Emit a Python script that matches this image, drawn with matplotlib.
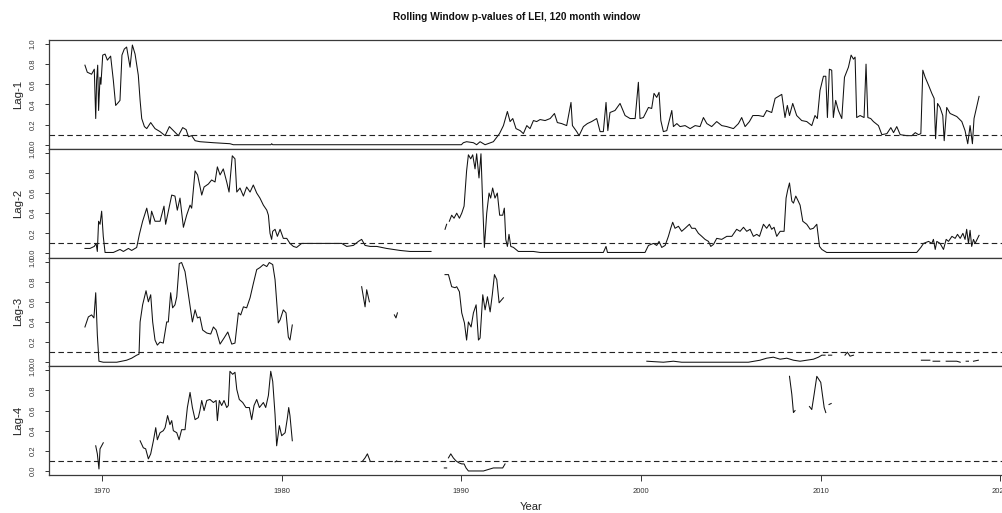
import numpy as np
import matplotlib
matplotlib.use("Agg")
import matplotlib.pyplot as plt

nan = np.nan

# ---------------- data ----------------
lag1_years = [1969.05, 1969.18, 1969.42, 1969.57, 1969.65, 1969.70, 1969.76, 1969.81, 1969.89, 1969.94,
              1970.04, 1970.17, 1970.30, 1970.48, 1970.63, 1970.76, 1970.91, 1971.00, 1971.11, 1971.24,
              1971.37, 1971.56, 1971.69, 1971.84, 1972.02, 1972.12, 1972.21, 1972.36, 1972.49, 1972.71,
              1972.95, 1973.23, 1973.51, 1973.75, 1973.97, 1974.25, 1974.49, 1974.68, 1974.81, 1974.99,
              1975.18, 1975.45, 1976.20, 1977.12, 1977.31, 1979.40, 1979.44, 1979.50, 1990.00, 1990.11,
              1990.29, 1990.67, 1990.85, 1991.04, 1991.32, 1991.78, 1992.12,
              1992.34, 1992.56, 1992.71, 1992.86, 1993.04, 1993.27, 1993.45, 1993.64, 1993.82, 1994.01,
              1994.19, 1994.38, 1994.66, 1994.94, 1995.18, 1995.34, 1995.58, 1995.86, 1996.10, 1996.18,
              1996.42, 1996.55, 1996.79, 1997.01, 1997.25, 1997.53, 1997.72, 1997.90, 1998.05, 1998.15,
              1998.27, 1998.55, 1998.83, 1999.11, 1999.39, 1999.67, 1999.85, 1999.94, 2000.13, 2000.41,
              2000.59, 2000.72, 2000.87, 2001.00, 2001.10, 2001.24, 2001.43, 2001.71, 2001.80, 2001.99,
              2002.17, 2002.45, 2002.73, 2003.01, 2003.28, 2003.47, 2003.66, 2003.93, 2004.21, 2004.49,
              2004.77, 2005.14, 2005.42, 2005.60, 2005.79, 2006.03, 2006.22, 2006.53, 2006.81, 2006.99,
              2007.27, 2007.46, 2007.83, 2008.01, 2008.14, 2008.26, 2008.44, 2008.66, 2008.94, 2009.22,
              2009.50, 2009.68, 2009.81, 2009.96, 2010.15, 2010.28, 2010.37, 2010.48, 2010.61, 2010.70,
              2010.83, 2010.98, 2011.17, 2011.32, 2011.54, 2011.69, 2011.82, 2011.91, 2012.00, 2012.19,
              2012.41, 2012.52, 2012.62, 2012.78, 2012.93, 2013.21, 2013.40, 2013.68, 2013.90, 2014.05,
              2014.23, 2014.42, 2014.79, 2015.07, 2015.26, 2015.44, 2015.57, 2015.68, 2015.81, 2016.00,
              2016.18, 2016.31, 2016.39, 2016.50, 2016.64, 2016.79, 2016.87, 2017.01, 2017.20, 2017.57,
              2017.85, 2018.03, 2018.18, 2018.31, 2018.44, 2018.53, 2018.81]
lag1_pvals = [0.79, 0.72, 0.70, 0.75, 0.26, 0.64, 0.79, 0.34, 0.67, 0.60,
              0.89, 0.90, 0.84, 0.88, 0.64, 0.39, 0.42, 0.44, 0.89, 0.95,
              0.97, 0.77, 0.99, 0.90, 0.69, 0.44, 0.26, 0.18, 0.16, 0.22,
              0.16, 0.13, 0.09, 0.18, 0.14, 0.09, 0.17, 0.15, 0.08, 0.09,
              0.04, 0.03, 0.02, 0.01, 0.00, 0.00, 0.01, 0.00, 0.00, 0.02,
              0.03, 0.02, 0.00, 0.03, 0.00, 0.03, 0.11,
              0.19, 0.33, 0.23, 0.26, 0.16, 0.14, 0.11, 0.19, 0.16, 0.24,
              0.23, 0.25, 0.24, 0.26, 0.31, 0.22, 0.21, 0.19, 0.42, 0.19,
              0.13, 0.09, 0.18, 0.21, 0.23, 0.26, 0.13, 0.13, 0.42, 0.14,
              0.32, 0.34, 0.41, 0.29, 0.26, 0.26, 0.62, 0.26, 0.27, 0.37,
              0.36, 0.51, 0.47, 0.52, 0.24, 0.13, 0.14, 0.34, 0.18, 0.21,
              0.18, 0.19, 0.16, 0.19, 0.18, 0.27, 0.21, 0.18, 0.23, 0.19,
              0.18, 0.16, 0.21, 0.27, 0.18, 0.23, 0.29, 0.29, 0.28, 0.34,
              0.32, 0.46, 0.50, 0.27, 0.39, 0.29, 0.41, 0.29, 0.24, 0.23,
              0.19, 0.29, 0.26, 0.54, 0.68, 0.68, 0.27, 0.75, 0.74, 0.27,
              0.44, 0.34, 0.26, 0.67, 0.77, 0.89, 0.85, 0.87, 0.27, 0.29,
              0.27, 0.80, 0.27, 0.26, 0.23, 0.19, 0.10, 0.11, 0.17, 0.12,
              0.18, 0.10, 0.09, 0.09, 0.12, 0.10, 0.11, 0.74, 0.67, 0.59,
              0.51, 0.46, 0.06, 0.41, 0.37, 0.29, 0.04, 0.37, 0.31, 0.28,
              0.23, 0.14, 0.01, 0.19, 0.01, 0.26, 0.48]

lag2_years = [1969.05, 1969.33, 1969.57, 1969.67, 1969.74, 1969.81, 1969.89, 1969.98, 1970.07, 1970.17,
              1970.63, 1971.00, 1971.19, 1971.47, 1971.65, 1971.93, 1972.08, 1972.26, 1972.49, 1972.67,
              1972.76, 1972.95, 1973.23, 1973.45, 1973.54, 1973.69, 1973.88, 1974.06, 1974.19, 1974.34,
              1974.53, 1974.71, 1974.90, 1974.99, 1975.18, 1975.32, 1975.55, 1975.68, 1975.92, 1976.10,
              1976.29, 1976.42, 1976.57, 1976.75, 1976.94, 1977.07, 1977.25, 1977.40, 1977.50, 1977.68,
              1977.87, 1978.05, 1978.24, 1978.42, 1978.61, 1978.79, 1978.98, 1979.17, 1979.26, 1979.35,
              1979.44, 1979.50, 1979.63, 1979.76, 1979.91, 1980.09, 1980.28, 1980.46, 1980.65, 1980.83,
              1981.11, 1981.48, 1981.95, 1982.41, 1982.88, 1983.34, 1983.62, 1983.99, 1984.27, 1984.45,
              1984.64, 1984.92, 1985.29, 1985.84, 1986.59, 1987.14, 1987.70, 1988.31, nan,
              1989.09, 1989.18, nan,
              1989.33, 1989.46, 1989.59, 1989.74, 1989.89, 1990.02, 1990.15, 1990.29, 1990.39, 1990.52,
              1990.63, 1990.76, 1990.85, 1990.98, 1991.09, 1991.19, 1991.28, 1991.41, 1991.54, 1991.63,
              1991.74, 1991.87, 1992.00, 1992.13, 1992.30, 1992.39, 1992.47, 1992.56, 1992.65, 1992.75,
              1992.90, 1993.17, 1993.64, 1994.01, 1994.38, 1997.90, 1998.05, 1998.13, 2000.22, 2000.41,
              2000.69, 2000.87, 2001.00, 2001.15, 2001.34, 2001.52, 2001.65, 2001.76, 2001.89, 2002.08,
              2002.26, 2002.45, 2002.69, 2002.82, 2003.01, 2003.19, 2003.38, 2003.56, 2003.75, 2003.88,
              2004.03, 2004.21, 2004.49, 2004.77, 2005.05, 2005.32, 2005.51, 2005.70, 2005.88, 2006.07,
              2006.25, 2006.44, 2006.59, 2006.81, 2006.99, 2007.14, 2007.27, 2007.40, 2007.55, 2007.74,
              2007.96, 2008.07, 2008.16, 2008.26, 2008.39, 2008.48, 2008.61, 2008.72, 2008.85, 2009.00,
              2009.22, 2009.41, 2009.59, 2009.78, 2009.93, 2010.06, 2010.33, 2010.70, 2015.34, 2015.57,
              2015.72, 2016.00, 2016.18, 2016.27, 2016.37, 2016.46, 2016.64, 2016.83, 2016.98, 2017.11,
              2017.30, 2017.48, 2017.61, 2017.76, 2017.91, 2018.03, 2018.12, 2018.22, 2018.31, 2018.40,
              2018.50, 2018.59, 2018.81]
lag2_pvals = [0.05, 0.05, 0.07, 0.10, 0.02, 0.32, 0.29, 0.42, 0.17, 0.01,
              0.01, 0.04, 0.02, 0.05, 0.03, 0.06, 0.19, 0.32, 0.45, 0.29,
              0.42, 0.32, 0.32, 0.47, 0.29, 0.42, 0.58, 0.57, 0.43, 0.55,
              0.26, 0.38, 0.48, 0.45, 0.82, 0.78, 0.58, 0.66, 0.69, 0.73,
              0.71, 0.86, 0.78, 0.84, 0.71, 0.61, 0.97, 0.94, 0.61, 0.65,
              0.57, 0.66, 0.61, 0.68, 0.60, 0.55, 0.48, 0.43, 0.38, 0.20,
              0.14, 0.22, 0.24, 0.17, 0.24, 0.15, 0.15, 0.10, 0.07, 0.06,
              0.10, 0.10, 0.10, 0.10, 0.10, 0.10, 0.07, 0.08, 0.12, 0.14,
              0.08, 0.07, 0.07, 0.05, 0.03, 0.02, 0.02, 0.02, nan,
              0.24, 0.29, nan,
              0.32, 0.38, 0.35, 0.40, 0.35, 0.40, 0.47, 0.82, 0.98, 0.94,
              0.98, 0.84, 0.99, 0.75, 0.99, 0.47, 0.06, 0.40, 0.60, 0.55,
              0.65, 0.55, 0.60, 0.38, 0.38, 0.45, 0.14, 0.07, 0.19, 0.07,
              0.06, 0.02, 0.02, 0.02, 0.01, 0.01, 0.07, 0.01, 0.01, 0.08,
              0.10, 0.08, 0.12, 0.06, 0.08, 0.17, 0.25, 0.31, 0.25, 0.27,
              0.22, 0.25, 0.29, 0.25, 0.25, 0.20, 0.17, 0.14, 0.12, 0.07,
              0.09, 0.15, 0.14, 0.17, 0.17, 0.24, 0.22, 0.26, 0.22, 0.24,
              0.17, 0.19, 0.17, 0.29, 0.25, 0.29, 0.24, 0.26, 0.17, 0.22,
              0.22, 0.55, 0.63, 0.70, 0.52, 0.50, 0.57, 0.53, 0.48, 0.32,
              0.29, 0.24, 0.25, 0.29, 0.07, 0.04, 0.01, 0.01, 0.01, 0.06,
              0.10, 0.12, 0.10, 0.14, 0.04, 0.12, 0.10, 0.04, 0.14, 0.12,
              0.17, 0.15, 0.19, 0.15, 0.20, 0.14, 0.24, 0.10, 0.23, 0.07,
              0.14, 0.10, 0.18]

lag3_years = [1969.05, 1969.24, 1969.42, 1969.55, 1969.65, 1969.74, 1969.83, 1970.07, 1970.82, 1971.09,
              1971.37, 1971.65, 1971.93, 1972.06, 1972.12, 1972.26, 1972.45, 1972.58, 1972.71, 1972.82,
              1972.95, 1973.08, 1973.23, 1973.41, 1973.60, 1973.69, 1973.82, 1973.93, 1974.06, 1974.16,
              1974.30, 1974.43, 1974.62, 1974.81, 1975.03, 1975.18, 1975.31, 1975.45, 1975.60, 1975.83,
              1976.05, 1976.20, 1976.35, 1976.57, 1976.79, 1977.00, 1977.22, 1977.40, 1977.59, 1977.72,
              1977.87, 1978.05, 1978.24, 1978.42, 1978.61, 1978.79, 1978.98, 1979.17, 1979.31, 1979.50,
              1979.63, 1979.81, 1979.91, 1980.09, 1980.24, 1980.37, 1980.46, 1980.59, nan,
              1984.45, 1984.64, 1984.73, 1984.88, nan,
              1986.27, 1986.36, 1986.44, nan,
              1989.09, 1989.28, 1989.46, 1989.65, 1989.74, 1989.89, 1990.02, 1990.17, 1990.29, 1990.39,
              1990.54, 1990.67, 1990.82, 1990.95, 1991.04, 1991.19, 1991.32, 1991.45, 1991.60, 1991.72,
              1991.84, 1991.97, 1992.10, 1992.34, nan,
              2000.32, 2001.24, 2001.80, 2002.26, 2005.97, 2006.62, 2006.99, 2007.36, 2007.74, 2008.11,
              2008.48, 2008.85, 2009.22, 2009.59, 2009.87, 2010.06, 2010.24, nan,
              2010.43, 2010.61, nan,
              2011.35, 2011.48, 2011.63, 2011.82, nan,
              2015.60, 2016.07, nan,
              2016.25, 2016.62, nan,
              2016.98, 2017.57, 2017.76, nan,
              2018.09, 2018.22, nan,
              2018.50, 2018.77]
lag3_pvals = [0.35, 0.45, 0.47, 0.44, 0.69, 0.27, 0.01, 0.00, 0.00, 0.01,
              0.02, 0.04, 0.07, 0.08, 0.40, 0.57, 0.71, 0.60, 0.67, 0.40,
              0.22, 0.17, 0.20, 0.19, 0.40, 0.40, 0.69, 0.54, 0.57, 0.65,
              0.98, 0.99, 0.90, 0.67, 0.40, 0.52, 0.44, 0.45, 0.32, 0.29,
              0.28, 0.35, 0.32, 0.18, 0.24, 0.30, 0.18, 0.19, 0.49, 0.47,
              0.55, 0.54, 0.64, 0.78, 0.92, 0.94, 0.97, 0.95, 0.99, 0.97,
              0.82, 0.39, 0.42, 0.52, 0.49, 0.25, 0.22, 0.37, nan,
              0.75, 0.55, 0.72, 0.60, nan,
              0.47, 0.44, 0.49, nan,
              0.87, 0.87, 0.75, 0.74, 0.75, 0.70, 0.49, 0.39, 0.22, 0.40,
              0.35, 0.49, 0.57, 0.22, 0.24, 0.67, 0.52, 0.65, 0.50, 0.67,
              0.87, 0.82, 0.59, 0.64, nan,
              0.01, 0.00, 0.01, 0.00, 0.00, 0.02, 0.04, 0.05, 0.03, 0.04,
              0.02, 0.01, 0.02, 0.03, 0.05, 0.07, 0.07, nan,
              0.07, 0.07, nan,
              0.07, 0.10, 0.06, 0.07, nan,
              0.02, 0.02, nan,
              0.01, 0.01, nan,
              0.01, 0.01, 0.00, nan,
              0.01, 0.01, nan,
              0.01, 0.02]

lag4_years = [1969.65, 1969.74, 1969.83, 1969.89, 1969.98, 1970.07, nan,
              1972.12, 1972.30, 1972.43, 1972.58, 1972.71, 1972.86, 1972.99, 1973.08, 1973.23, 1973.41,
              1973.51, 1973.65, 1973.78, 1973.88, 1973.97, 1974.16, 1974.29, 1974.43, 1974.62, 1974.75,
              1974.90, 1975.03, 1975.18, 1975.36, 1975.45, 1975.55, 1975.68, 1975.83, 1976.01, 1976.20,
              1976.35, 1976.42, 1976.53, 1976.66, 1976.79, 1976.94, 1977.03, 1977.12, 1977.27, 1977.40,
              1977.50, 1977.64, 1977.83, 1978.01, 1978.20, 1978.33, 1978.46, 1978.61, 1978.76, 1978.98,
              1979.11, 1979.26, 1979.39, 1979.50, 1979.63, 1979.72, 1979.87, 1980.00, 1980.19, 1980.32,
              1980.39, 1980.46, 1980.59, nan,
              1984.51, 1984.64, 1984.77, 1984.92, nan,
              1986.31, 1986.40, nan,
              1989.05, 1989.18, nan,
              1989.28, 1989.41, 1989.55, 1989.70, 1989.87, 1990.02, 1990.15, 1990.26, 1990.39, 1991.23,
              1991.41, 1991.78, 1992.10, 1992.30, 1992.43, nan,
              2008.26, 2008.39, 2008.48, 2008.57, nan,
              2009.37, 2009.50, 2009.63, 2009.78, 2009.89, 2010.00, 2010.09, 2010.19, 2010.28, nan,
              2010.46, 2010.58]
lag4_pvals = [0.25, 0.17, 0.02, 0.22, 0.25, 0.28, nan,
              0.30, 0.23, 0.22, 0.12, 0.17, 0.30, 0.43, 0.31, 0.38, 0.40,
              0.43, 0.55, 0.46, 0.50, 0.40, 0.38, 0.31, 0.41, 0.41, 0.63,
              0.78, 0.63, 0.51, 0.53, 0.60, 0.70, 0.60, 0.70, 0.71, 0.68,
              0.70, 0.50, 0.70, 0.65, 0.70, 0.63, 0.65, 0.99, 0.96, 0.98,
              0.81, 0.71, 0.68, 0.63, 0.63, 0.51, 0.65, 0.71, 0.63, 0.68,
              0.63, 0.75, 0.99, 0.89, 0.56, 0.25, 0.45, 0.35, 0.38, 0.53,
              0.63, 0.55, 0.30, nan,
              0.10, 0.13, 0.17, 0.10, nan,
              0.09, 0.10, nan,
              0.03, 0.03, nan,
              0.13, 0.17, 0.13, 0.10, 0.08, 0.07, 0.07, 0.03, 0.00, 0.00,
              0.01, 0.03, 0.03, 0.03, 0.07, nan,
              0.94, 0.76, 0.58, 0.60, nan,
              0.64, 0.61, 0.76, 0.94, 0.91, 0.88, 0.76, 0.63, 0.58, nan,
              0.66, 0.67]

panel_labels = ["Lag-1", "Lag-2", "Lag-3", "Lag-4"]
threshold = 0.10
y_ticks = [0.0, 0.2, 0.4, 0.6, 0.8, 1.0]
x_ticks = [1970, 1980, 1990, 2000, 2010, 2020]
title_text = "Rolling Window p-values of LEI, 120 month window"
x_label = "Year"

series = [(lag1_years, lag1_pvals), (lag2_years, lag2_pvals),
          (lag3_years, lag3_pvals), (lag4_years, lag4_pvals)]

# ---------------- figure ----------------
plt.rcParams['font.family'] = ['Liberation Sans', 'DejaVu Sans']
W, H = 1003, 513
fig = plt.figure(figsize=(W / 100, H / 100), dpi=100)

left_px, right_px, top_px, bottom_px = 49, 1015, 40, 475
ph = (bottom_px - top_px) / 4.0
frame_col = '#3a3a3a'

for i, ((xs, ys), lab) in enumerate(zip(series, panel_labels)):
    y0 = top_px + (i + 1) * ph
    ax = fig.add_axes([left_px / W, 1 - y0 / H, (right_px - left_px) / W, ph / H])
    ax.plot(xs, ys, color='#111111', lw=0.75)
    ax.axhline(threshold, color='#222222', lw=0.8, ls=(0, (5, 3)))
    ax.set_xlim(1967.05, 2020.81)
    ax.set_ylim(-0.04, 1.04)
    for s in ax.spines.values():
        s.set_color(frame_col)
        s.set_linewidth(0.9)
    ax.set_yticks(y_ticks)
    ax.set_yticklabels([f"{v:.1f}" for v in y_ticks], rotation=90, va='center')
    ax.tick_params(axis='y', length=3, width=0.7, labelsize=5.5, pad=6, colors='#333333')
    ax.set_xticks(x_ticks)
    if i < 3:
        ax.tick_params(axis='x', bottom=False, labelbottom=False)
    else:
        ax.set_xticklabels([str(v) for v in x_ticks])
        ax.tick_params(axis='x', length=4, width=0.7, labelsize=5.5, pad=5.5, colors='#333333')
    fig.text(18 / W, 1 - (y0 - ph / 2) / H, lab, rotation=90, ha='center', va='center',
             fontsize=8.2, color='#222222')

fig.text(517 / W, 1 - 17.5 / H, title_text, ha='center', va='center',
         fontsize=7.3, fontweight='bold', color='#111111')
fig.text(531 / W, 1 - 507 / H, x_label, ha='center', va='center', fontsize=8, color='#222222')

fig.savefig("out.png", dpi=100)
